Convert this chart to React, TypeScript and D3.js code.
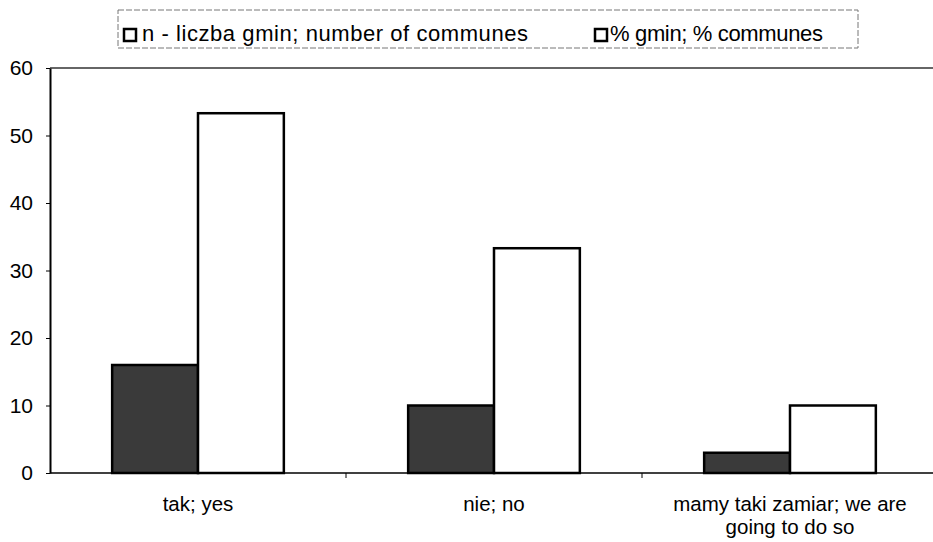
import React, { useEffect, useRef } from 'react';
import * as d3 from 'd3';

const categories = ['tak; yes', 'nie; no', 'mamy taki zamiar; we are|going to do so'];
const seriesNames = ['n - liczba gmin; number of communes', '% gmin; % communes'];
const nValues = [16, 10, 3];
const pctValues = [53.3, 33.3, 10];
const yTicks = [0, 10, 20, 30, 40, 50, 60];

const App = () => {
  const svgRef = useRef<SVGSVGElement>(null);

  useEffect(() => {
    const svgWidth = 933;
    const svgHeight = 542;
    const axisX = 50;
    const rightX = 933;
    const top = 68;
    const bottom = 473;
    const font = 'Liberation Sans, Arial, sans-serif';

    const svg = d3.select(svgRef.current)
      .attr('width', svgWidth)
      .attr('height', svgHeight)
      .style('background', '#fff');

    svg.selectAll('*').remove();

    const x = d3.scaleBand<string>()
      .domain(categories)
      .range([50, 938])
      .paddingInner(0.42)
      .paddingOuter(0.21);

    const xSub = d3.scaleBand<number>()
      .domain([0, 1])
      .range([0, x.bandwidth()]);

    const y = d3.scaleLinear()
      .domain([0, 60])
      .range([bottom, top]);

    // top line at 60
    svg.append('line')
      .attr('x1', axisX).attr('x2', rightX)
      .attr('y1', y(60)).attr('y2', y(60))
      .attr('stroke', '#333')
      .attr('stroke-width', 1.5);

    // bars
    const fills = ['#3a3a3a', '#ffffff'];
    [nValues, pctValues].forEach((vals, s) => {
      svg.append('g')
        .selectAll('rect')
        .data(vals)
        .join('rect')
        .attr('x', (d, i) => (x(categories[i]) ?? 0) + (xSub(s) ?? 0))
        .attr('y', d => y(d))
        .attr('width', xSub.bandwidth())
        .attr('height', d => y(0) - y(d))
        .attr('fill', fills[s])
        .attr('stroke', '#000')
        .attr('stroke-width', 2.5);
    });

    // y axis
    const yAxis = d3.axisLeft(y).tickValues(yTicks).tickSize(4).tickSizeOuter(0);
    const yg = svg.append('g')
      .attr('transform', `translate(${axisX},0)`)
      .call(yAxis);
    yg.select('.domain').attr('stroke', '#000').attr('stroke-width', 2);
    yg.selectAll('line').attr('stroke', '#000');
    yg.selectAll('text')
      .attr('font-family', font)
      .attr('font-size', 21)
      .attr('fill', '#000')
      .attr('x', -17);

    // x axis baseline
    svg.append('line')
      .attr('x1', axisX).attr('x2', rightX)
      .attr('y1', y(0)).attr('y2', y(0))
      .attr('stroke', '#000')
      .attr('stroke-width', 1.5);

    // category separators
    svg.append('g')
      .selectAll('line')
      .data(categories.slice(1))
      .join('line')
      .attr('x1', d => (x(d) ?? 0) - x.step() * 0.21)
      .attr('x2', d => (x(d) ?? 0) - x.step() * 0.21)
      .attr('y1', y(0)).attr('y2', y(0) + 5)
      .attr('stroke', '#000');

    // category labels
    const labels = svg.append('g')
      .selectAll('text')
      .data(categories)
      .join('text')
      .attr('x', d => (x(d) ?? 0) + x.bandwidth() / 2)
      .attr('y', 511)
      .attr('text-anchor', 'middle')
      .attr('font-family', font)
      .attr('font-size', 20.5)
      .attr('fill', '#000');
    labels.each(function (d) {
      const t = d3.select(this);
      d.split('|').forEach((line, i) => {
        t.append('tspan')
          .attr('x', t.attr('x'))
          .attr('dy', i === 0 ? 0 : 23)
          .text(line);
      });
    });

    // legend
    const legend = svg.append('g');
    legend.append('rect')
      .attr('x', 118).attr('y', 10)
      .attr('width', 740).attr('height', 38)
      .attr('fill', '#fff')
      .attr('stroke', '#777')
      .attr('stroke-dasharray', '6,2');
    const legendX = [124, 595];
    const legendLen = [386, 213];
    seriesNames.forEach((name, i) => {
      legend.append('rect')
        .attr('x', legendX[i]).attr('y', 29)
        .attr('width', 12).attr('height', 12)
        .attr('fill', '#fff')
        .attr('stroke', '#000')
        .attr('stroke-width', 2.5);
      legend.append('text')
        .attr('x', legendX[i] + (i === 0 ? 18 : 15))
        .attr('y', 41)
        .attr('font-family', font)
        .attr('font-size', 22)
        .attr('fill', '#000')
        .attr('textLength', legendLen[i])
        .attr('lengthAdjust', 'spacing')
        .text(name);
    });
  }, []);

  return (
    <svg ref={svgRef} style={{ position: 'absolute', left: 0, top: 0 }}></svg>
  );
};

export default App;
